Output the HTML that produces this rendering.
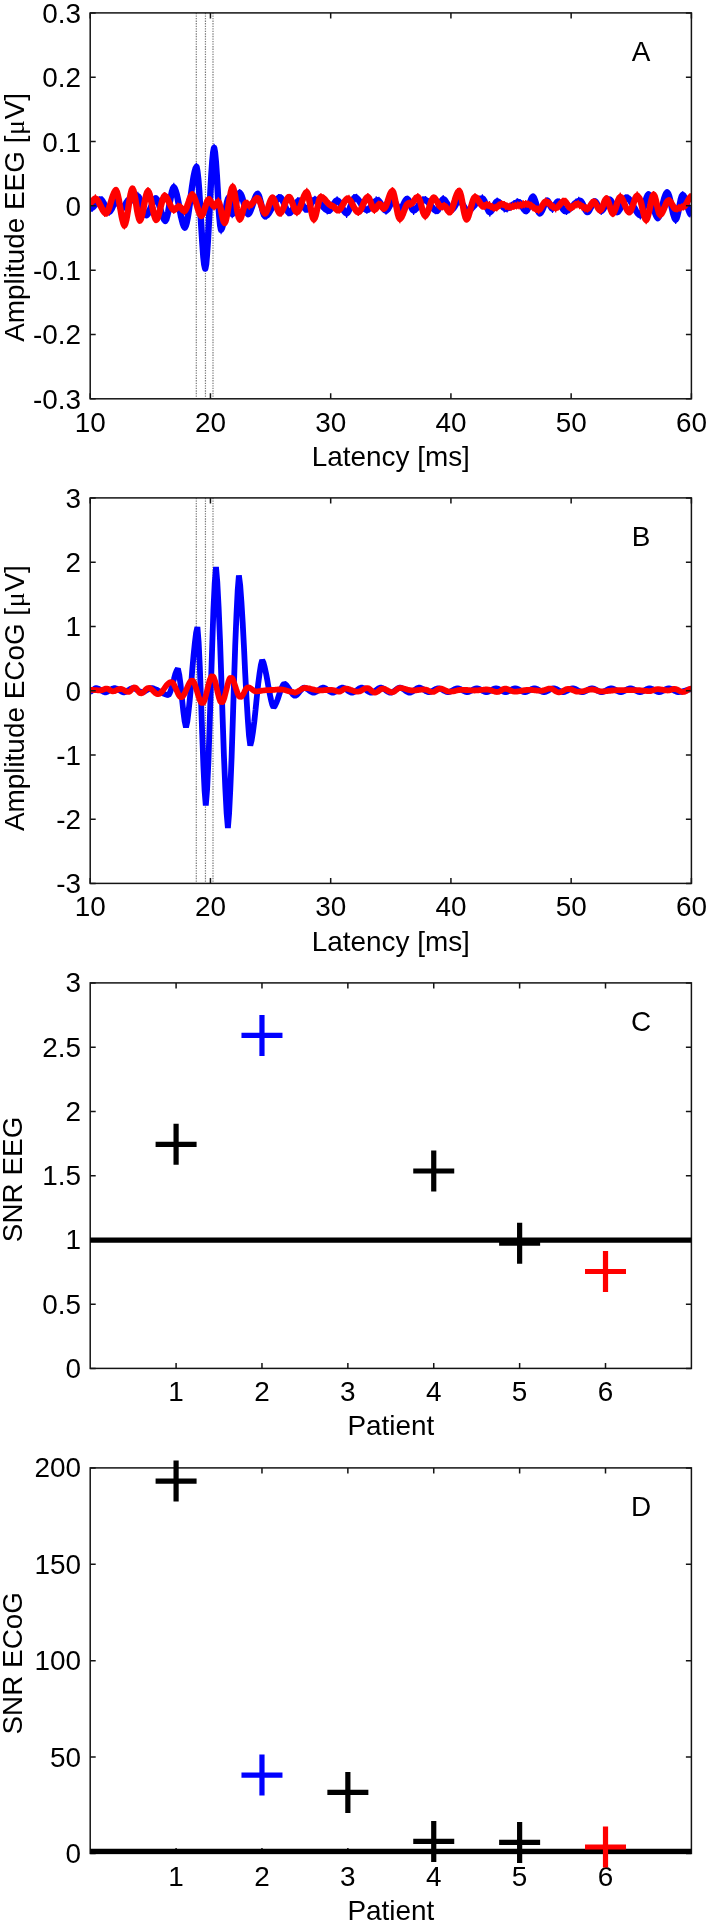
<!DOCTYPE html>
<html><head><meta charset="utf-8"><title>Figure</title>
<style>html,body{margin:0;padding:0;background:#fff}svg{display:block;will-change:transform}</style>
</head><body>
<svg width="708" height="1923" viewBox="0 0 708 1923" font-family="'Liberation Sans', sans-serif" font-size="27.9" fill="#000">
<rect width="708" height="1923" fill="#fff"/>
<line x1="196.3" y1="12.9" x2="196.3" y2="398.8" stroke="#7a7a7a" stroke-width="1.2" stroke-dasharray="1.35 1.2"/>
<line x1="205.45" y1="12.9" x2="205.45" y2="398.8" stroke="#7a7a7a" stroke-width="1.2" stroke-dasharray="1.35 1.2"/>
<line x1="213.0" y1="12.9" x2="213.0" y2="398.8" stroke="#7a7a7a" stroke-width="1.2" stroke-dasharray="1.35 1.2"/>
<clipPath id="cA"><rect x="90.2" y="12.9" width="601.2" height="385.9"/></clipPath><g clip-path="url(#cA)">
<path d="M90.2 209.6 L90.4 209.1 L90.5 208.5 L91.5 208.2 L92.4 207.6 L93.3 206.8 L94.2 205.8 L95.2 204.6 L96.1 203.4 L97.0 202.3 L97.9 201.3 L98.9 200.4 L99.8 199.8 L100.7 199.5 L101.7 200.1 L102.6 201.2 L103.5 202.8 L104.5 204.7 L105.4 206.7 L106.4 208.6 L107.3 210.2 L108.2 211.3 L109.2 211.9 L110.1 211.3 L111.0 210.0 L112.0 208.3 L112.9 206.3 L113.8 204.3 L114.7 202.5 L115.7 201.3 L116.6 200.6 L117.5 201.3 L118.4 202.7 L119.2 204.6 L120.1 206.4 L121.0 207.8 L121.9 208.5 L122.8 208.0 L123.8 207.0 L124.7 205.6 L125.6 204.0 L126.5 202.4 L127.5 201.0 L128.4 200.0 L129.3 199.5 L129.8 200.1 L130.4 200.6 L131.3 200.4 L132.2 199.9 L133.2 199.2 L134.1 198.4 L135.0 197.6 L135.9 196.9 L136.9 196.4 L137.8 196.2 L138.7 197.0 L139.7 198.8 L140.6 201.2 L141.6 204.2 L142.5 207.2 L143.4 210.2 L144.4 212.6 L145.3 214.4 L146.3 215.2 L147.1 214.7 L148.0 213.6 L148.9 212.0 L149.7 210.1 L150.6 207.9 L151.5 205.7 L152.3 203.6 L153.2 201.6 L154.1 200.1 L154.9 199.0 L155.8 198.4 L156.7 199.2 L157.5 200.6 L158.4 202.7 L159.3 205.3 L160.1 208.1 L161.0 211.1 L161.9 214.0 L162.7 216.5 L163.6 218.6 L164.5 220.1 L165.3 220.9 L166.3 219.3 L167.2 216.2 L168.2 211.9 L169.1 206.7 L170.0 201.3 L171.0 196.2 L171.9 191.8 L172.9 188.7 L173.8 187.2 L174.7 188.4 L175.6 190.7 L176.6 193.9 L177.5 198.0 L178.4 202.5 L179.3 207.4 L180.2 212.2 L181.1 216.8 L182.1 220.8 L183.0 224.1 L183.9 226.4 L184.8 227.6 L185.7 226.0 L186.6 223.0 L187.5 218.7 L188.4 213.4 L189.3 207.3 L190.2 200.7 L191.1 193.9 L192.0 187.3 L192.9 181.2 L193.8 175.8 L194.7 171.6 L195.6 168.6 L196.5 166.9 L197.3 171.0 L198.2 178.8 L199.1 189.8 L199.9 203.2 L200.8 217.8 L201.7 232.4 L202.6 245.8 L203.4 256.8 L204.3 264.6 L205.2 268.6 L206.1 263.9 L206.9 254.6 L207.8 241.5 L208.7 225.6 L209.6 208.3 L210.5 190.9 L211.4 175.0 L212.3 161.9 L213.2 152.7 L214.1 147.9 L214.9 152.4 L215.8 161.6 L216.7 174.3 L217.6 188.9 L218.4 203.5 L219.3 216.1 L220.2 225.3 L221.1 229.8 L221.9 228.3 L222.8 225.3 L223.7 221.2 L224.5 216.2 L225.4 210.9 L226.3 206.0 L227.1 201.8 L228.0 198.8 L228.9 197.3 L230.0 201.8 L231.1 209.6 L232.2 214.1 L233.2 212.9 L234.1 210.6 L235.0 207.3 L235.9 203.5 L236.9 199.7 L237.8 196.4 L238.7 194.0 L239.7 192.8 L240.6 193.8 L241.5 195.7 L242.5 198.5 L243.4 201.7 L244.4 205.2 L245.3 208.4 L246.2 211.2 L247.2 213.1 L248.1 214.1 L249.0 213.4 L249.9 212.1 L250.7 210.2 L251.6 207.9 L252.5 205.3 L253.3 202.7 L254.2 200.1 L255.1 197.8 L255.9 195.9 L256.8 194.6 L257.7 193.9 L258.6 195.2 L259.5 197.7 L260.4 201.1 L261.4 205.1 L262.3 209.1 L263.2 212.6 L264.1 215.1 L265.1 216.4 L265.9 216.0 L266.8 215.4 L267.7 214.5 L268.6 213.5 L269.4 212.2 L270.3 210.8 L271.2 209.2 L272.1 207.6 L272.9 206.0 L273.8 204.4 L274.7 202.9 L275.5 201.4 L276.4 200.2 L277.3 199.1 L278.2 198.2 L279.0 197.6 L279.9 197.3 L280.8 197.8 L281.6 198.8 L282.5 200.3 L283.4 202.1 L284.2 204.1 L285.1 206.2 L286.0 208.2 L286.8 210.0 L287.7 211.4 L288.6 212.5 L289.4 213.0 L290.3 212.6 L291.2 211.8 L292.0 210.6 L292.9 209.2 L293.8 207.6 L294.6 206.0 L295.5 204.4 L296.4 203.0 L297.2 201.9 L298.1 201.1 L299.0 200.6 L299.9 201.1 L300.8 202.1 L301.8 203.5 L302.7 205.1 L303.6 206.7 L304.5 208.1 L305.5 209.1 L306.4 209.6 L307.3 209.2 L308.3 208.2 L309.2 206.9 L310.2 205.4 L311.1 203.8 L312.0 202.2 L313.0 200.9 L313.9 200.0 L314.9 199.5 L315.7 199.8 L316.6 200.1 L317.4 200.7 L318.3 201.4 L319.2 202.2 L320.0 203.1 L320.9 204.1 L321.8 205.1 L322.6 206.2 L323.5 207.1 L324.3 208.1 L325.2 208.9 L326.1 209.6 L326.9 210.1 L327.8 210.5 L328.6 210.8 L329.6 210.3 L330.5 209.3 L331.5 207.9 L332.4 206.3 L333.3 204.6 L334.3 203.0 L335.2 201.7 L336.2 200.7 L337.1 200.2 L338.0 200.7 L338.8 201.5 L339.7 202.7 L340.6 204.3 L341.4 205.9 L342.3 207.7 L343.2 209.4 L344.0 210.9 L344.9 212.1 L345.8 213.0 L346.6 213.4 L347.6 212.7 L348.5 211.2 L349.5 209.1 L350.4 206.7 L351.4 204.1 L352.3 201.6 L353.2 199.5 L354.2 198.0 L355.1 197.3 L356.0 197.6 L356.9 198.3 L357.8 199.2 L358.7 200.3 L359.6 201.6 L360.5 203.0 L361.4 204.4 L362.3 205.8 L363.2 207.1 L364.1 208.2 L365.0 209.1 L365.9 209.7 L366.8 210.1 L367.7 209.8 L368.6 209.2 L369.5 208.4 L370.4 207.4 L371.3 206.3 L372.2 205.1 L373.0 204.0 L373.9 202.8 L374.8 201.8 L375.7 201.1 L376.6 200.5 L377.5 200.2 L378.5 200.7 L379.4 201.7 L380.4 203.0 L381.3 204.6 L382.2 206.3 L383.2 207.9 L384.1 209.3 L385.1 210.3 L386.0 210.8 L386.9 210.2 L387.9 209.1 L388.8 207.5 L389.7 205.7 L390.6 203.9 L391.6 202.3 L392.5 201.2 L393.4 200.6 L394.3 201.3 L395.2 202.5 L396.1 204.2 L397.1 206.1 L398.0 207.8 L398.9 209.0 L399.8 209.6 L400.7 209.0 L401.6 207.8 L402.6 206.2 L403.5 204.2 L404.4 202.3 L405.3 200.7 L406.3 199.4 L407.2 198.8 L408.1 199.6 L409.0 201.3 L409.9 203.5 L410.8 205.9 L411.7 208.1 L412.6 209.7 L413.6 210.5 L414.4 210.2 L415.3 209.6 L416.2 208.7 L417.1 207.6 L418.0 206.3 L418.8 205.0 L419.7 203.7 L420.6 202.5 L421.5 201.4 L422.4 200.5 L423.3 199.9 L424.1 199.5 L425.1 199.8 L426.0 200.3 L426.9 201.0 L427.8 201.9 L428.7 202.9 L429.6 204.1 L430.5 205.3 L431.4 206.4 L432.3 207.6 L433.2 208.6 L434.1 209.5 L435.0 210.2 L435.9 210.7 L436.9 211.0 L437.8 210.2 L438.7 208.5 L439.6 206.3 L440.5 203.8 L441.4 201.5 L442.3 199.9 L443.2 199.1 L444.2 199.6 L445.1 200.5 L446.0 201.9 L447.0 203.5 L447.9 205.2 L448.9 206.8 L449.8 208.2 L450.7 209.1 L451.7 209.6 L452.6 209.1 L453.5 208.1 L454.5 206.7 L455.4 205.1 L456.3 203.5 L457.2 202.1 L458.2 201.1 L459.1 200.6 L460.0 201.1 L461.0 202.0 L461.9 203.3 L462.9 204.9 L463.8 206.5 L464.8 208.1 L465.7 209.4 L466.6 210.3 L467.6 210.8 L468.4 210.5 L469.3 210.1 L470.2 209.6 L471.1 208.9 L471.9 208.1 L472.8 207.1 L473.7 206.1 L474.6 205.1 L475.4 204.0 L476.3 203.0 L477.2 202.0 L478.0 201.1 L478.9 200.3 L479.8 199.6 L480.7 199.0 L481.5 198.6 L482.4 198.4 L483.3 199.2 L484.3 200.7 L485.2 202.9 L486.1 205.4 L487.0 207.8 L488.0 210.0 L488.9 211.6 L489.8 212.3 L490.7 211.7 L491.7 210.5 L492.6 208.8 L493.5 206.8 L494.5 204.9 L495.4 203.2 L496.3 201.9 L497.2 201.3 L498.2 201.7 L499.1 202.3 L500.1 203.3 L501.0 204.4 L501.9 205.6 L502.9 206.8 L503.8 207.7 L504.8 208.4 L505.7 208.7 L506.6 208.6 L507.4 208.3 L508.3 207.9 L509.1 207.5 L510.0 206.9 L510.9 206.3 L511.7 205.7 L512.6 205.0 L513.4 204.4 L514.3 203.8 L515.2 203.2 L516.0 202.8 L516.9 202.4 L517.7 202.1 L518.6 202.0 L519.5 202.5 L520.4 203.5 L521.4 205.0 L522.3 206.6 L523.2 208.2 L524.2 209.7 L525.1 210.7 L526.0 211.2 L526.9 210.4 L527.8 208.8 L528.6 206.5 L529.5 203.9 L530.4 201.3 L531.3 199.0 L532.1 197.4 L533.0 196.6 L534.0 197.8 L534.9 200.1 L535.9 203.3 L536.9 206.8 L537.8 209.9 L538.8 212.3 L539.8 213.4 L540.7 212.7 L541.6 211.3 L542.6 209.3 L543.5 207.0 L544.4 204.8 L545.3 202.8 L546.3 201.4 L547.2 200.6 L548.1 201.3 L549.0 202.8 L549.8 204.7 L550.7 206.6 L551.6 208.0 L552.5 208.7 L553.4 208.1 L554.3 206.8 L555.1 205.1 L556.0 203.5 L556.9 202.2 L557.8 201.5 L558.7 202.1 L559.6 203.2 L560.6 204.7 L561.5 206.4 L562.4 208.1 L563.3 209.6 L564.3 210.7 L565.2 211.2 L566.1 211.0 L566.9 210.7 L567.8 210.2 L568.7 209.6 L569.6 208.9 L570.4 208.1 L571.3 207.3 L572.2 206.4 L573.1 205.5 L573.9 204.6 L574.8 203.7 L575.7 202.9 L576.5 202.2 L577.4 201.7 L578.3 201.2 L579.2 200.8 L580.0 200.6 L581.0 201.3 L581.9 202.6 L582.8 204.3 L583.7 206.4 L584.7 208.4 L585.6 210.2 L586.5 211.5 L587.4 212.1 L588.4 211.5 L589.3 210.3 L590.2 208.6 L591.2 206.7 L592.1 204.8 L593.0 203.1 L593.9 201.9 L594.9 201.3 L595.8 202.0 L596.7 203.3 L597.6 205.2 L598.5 207.1 L599.4 209.0 L600.3 210.3 L601.2 211.0 L602.2 210.4 L603.1 209.4 L604.0 207.9 L605.0 206.2 L605.9 204.3 L606.9 202.6 L607.8 201.1 L608.8 200.1 L609.7 199.5 L610.6 200.2 L611.5 201.7 L612.5 203.6 L613.4 205.9 L614.3 208.2 L615.3 210.2 L616.2 211.6 L617.1 212.3 L618.0 211.8 L618.8 210.8 L619.7 209.5 L620.6 207.8 L621.4 205.9 L622.3 203.9 L623.2 202.0 L624.0 200.4 L624.9 199.0 L625.8 198.0 L626.6 197.5 L627.5 197.9 L628.4 198.5 L629.2 199.4 L630.1 200.5 L630.9 201.8 L631.8 203.2 L632.7 204.8 L633.5 206.4 L634.4 208.0 L635.3 209.5 L636.1 211.0 L637.0 212.3 L637.8 213.4 L638.7 214.3 L639.6 214.9 L640.4 215.2 L641.3 214.3 L642.2 212.4 L643.1 209.7 L644.0 206.5 L644.9 203.1 L645.8 200.0 L646.7 197.3 L647.6 195.4 L648.5 194.4 L649.4 195.3 L650.4 197.1 L651.3 199.7 L652.2 202.8 L653.2 206.2 L654.1 209.6 L655.0 212.7 L656.0 215.2 L656.9 217.0 L657.8 218.0 L658.8 216.9 L659.7 215.0 L660.6 212.2 L661.5 208.8 L662.5 205.1 L663.4 201.4 L664.3 198.0 L665.3 195.3 L666.2 193.3 L667.1 192.3 L668.0 193.3 L668.9 195.4 L669.7 198.4 L670.6 202.0 L671.4 205.9 L672.3 209.9 L673.1 213.5 L674.0 216.4 L674.8 218.5 L675.7 219.6 L676.6 218.2 L677.4 215.5 L678.3 211.7 L679.2 207.3 L680.1 202.9 L680.9 199.0 L681.8 196.3 L682.7 194.9 L683.6 195.7 L684.4 197.2 L685.3 199.4 L686.2 202.1 L687.0 204.9 L687.9 207.8 L688.8 210.5 L689.7 212.7 L690.5 214.2 L691.4 215.0" stroke="#0000ff" stroke-width="6.4" fill="none" stroke-linejoin="round" stroke-miterlimit="3" stroke-linecap="butt"/>
<path d="M90.2 205.9 L90.4 213.1 L90.5 204.6 L92.0 212.0 L93.4 202.5 L94.9 208.6 L96.4 199.5 L97.8 205.7 L99.3 196.3 L100.7 203.3 L102.1 196.2 L103.5 206.8 L104.9 201.4 L106.4 212.6 L107.8 206.7 L109.2 215.6 L110.7 206.5 L112.2 212.2 L113.6 200.6 L115.1 206.1 L116.6 196.5 L117.9 205.6 L119.2 200.4 L120.6 211.3 L121.9 204.7 L123.4 211.1 L124.9 201.0 L126.3 206.7 L127.8 196.4 L129.3 203.8 L129.8 195.9 L130.4 205.0 L131.9 196.2 L133.3 203.3 L134.8 193.8 L136.3 201.0 L137.8 191.8 L139.2 201.5 L140.6 197.6 L142.0 209.5 L143.4 205.8 L144.9 217.5 L146.3 211.1 L147.6 217.9 L149.0 207.7 L150.3 212.5 L151.7 201.2 L153.1 206.0 L154.4 195.5 L155.8 202.7 L157.2 195.8 L158.5 207.4 L159.9 203.0 L161.2 216.4 L162.6 212.1 L164.0 223.0 L165.3 216.6 L166.7 222.3 L168.2 207.5 L169.6 208.1 L171.0 192.0 L172.4 193.8 L173.8 182.9 L175.2 193.5 L176.6 190.1 L177.9 203.8 L179.3 203.1 L180.7 219.0 L182.1 217.2 L183.4 229.6 L184.8 223.7 L186.3 227.9 L187.7 213.6 L189.2 212.3 L190.6 193.0 L192.1 190.1 L193.6 173.0 L195.0 173.9 L196.5 162.8 L197.9 179.6 L199.4 189.8 L200.8 222.2 L202.3 237.5 L203.7 264.2 L205.2 264.8 L206.6 261.8 L208.1 232.4 L209.6 211.9 L211.1 176.3 L212.6 162.3 L214.1 143.8 L215.5 161.1 L216.9 173.5 L218.3 204.9 L219.7 216.5 L221.1 234.2 L222.4 222.7 L223.7 225.0 L225.0 209.6 L226.3 210.0 L227.6 196.0 L228.9 201.3 L230.6 201.7 L232.2 218.2 L233.7 207.3 L235.2 210.5 L236.7 196.5 L238.2 199.4 L239.7 189.0 L241.1 198.5 L242.5 194.1 L243.9 207.5 L245.3 204.4 L246.7 215.8 L248.1 210.2 L249.5 216.8 L250.9 206.3 L252.2 210.2 L253.6 197.8 L254.9 201.7 L256.3 191.2 L257.7 197.9 L259.1 192.4 L260.6 205.8 L262.1 204.2 L263.6 217.9 L265.1 212.8 L266.4 219.3 L267.8 210.3 L269.1 217.1 L270.5 206.7 L271.8 212.0 L273.2 201.5 L274.5 207.0 L275.9 197.1 L277.2 203.0 L278.6 194.1 L279.9 201.3 L281.3 194.5 L282.6 204.4 L284.0 199.3 L285.4 210.4 L286.7 205.7 L288.1 216.1 L289.4 209.2 L290.8 215.9 L292.2 206.2 L293.5 211.9 L294.9 201.8 L296.3 207.1 L297.6 197.3 L299.0 204.3 L300.5 197.9 L301.9 207.7 L303.4 202.2 L304.9 212.5 L306.4 205.3 L307.8 212.5 L309.2 203.1 L310.6 208.7 L312.0 197.9 L313.5 204.4 L314.9 195.8 L316.2 203.6 L317.6 196.8 L319.0 205.8 L320.4 199.3 L321.8 209.4 L323.1 203.0 L324.5 212.0 L325.9 205.2 L327.3 214.4 L328.6 206.5 L330.0 213.7 L331.5 204.3 L332.9 209.3 L334.3 198.8 L335.7 204.9 L337.1 196.3 L338.5 205.0 L339.8 199.0 L341.2 209.4 L342.6 203.8 L343.9 214.4 L345.3 209.0 L346.6 217.8 L348.1 207.7 L349.5 213.5 L350.9 201.4 L352.3 206.0 L353.7 194.3 L355.1 201.0 L356.6 193.8 L358.0 203.7 L359.5 197.3 L360.9 207.7 L362.4 202.1 L363.9 211.8 L365.3 205.6 L366.8 213.7 L368.1 205.5 L369.5 212.2 L370.8 202.6 L372.2 208.7 L373.5 199.0 L374.8 206.0 L376.2 196.4 L377.5 204.5 L378.9 196.8 L380.4 207.1 L381.8 201.9 L383.2 212.1 L384.6 206.1 L386.0 214.6 L387.5 205.4 L389.0 211.2 L390.5 200.3 L391.9 206.2 L393.4 196.6 L395.0 206.0 L396.6 201.4 L398.2 212.4 L399.8 205.7 L401.3 212.6 L402.7 201.9 L404.2 206.4 L405.7 196.1 L407.2 203.1 L408.8 197.1 L410.4 208.9 L412.0 204.2 L413.6 214.8 L414.9 205.7 L416.2 212.3 L417.5 202.9 L418.8 209.3 L420.2 199.5 L421.5 205.2 L422.8 196.3 L424.1 203.5 L425.6 196.1 L427.0 205.1 L428.4 198.4 L429.8 207.9 L431.2 202.6 L432.6 211.6 L434.0 205.7 L435.4 214.1 L436.9 206.6 L438.4 213.3 L440.0 201.4 L441.6 205.1 L443.2 195.2 L444.6 203.8 L446.0 198.0 L447.4 208.5 L448.9 202.8 L450.3 212.6 L451.7 205.9 L453.2 212.4 L454.7 202.8 L456.1 207.9 L457.6 197.5 L459.1 204.5 L460.5 197.9 L461.9 207.1 L463.3 201.8 L464.8 212.1 L466.2 205.6 L467.6 214.6 L468.9 206.1 L470.3 213.6 L471.6 204.4 L473.0 210.8 L474.3 201.4 L475.7 207.9 L477.0 198.3 L478.4 204.9 L479.7 195.7 L481.1 202.6 L482.4 194.4 L483.9 204.2 L485.4 199.7 L486.9 211.3 L488.3 206.8 L489.8 216.6 L491.3 206.7 L492.8 212.3 L494.3 200.9 L495.8 206.8 L497.2 197.5 L498.6 205.9 L500.1 199.6 L501.5 209.3 L502.9 202.6 L504.3 212.4 L505.7 204.5 L507.1 212.5 L508.6 203.6 L510.0 211.0 L511.4 202.2 L512.9 208.9 L514.3 200.2 L515.7 206.6 L517.2 198.1 L518.6 205.6 L520.1 199.4 L521.6 208.9 L523.0 203.6 L524.5 213.9 L526.0 207.6 L527.4 213.8 L528.8 202.3 L530.2 206.1 L531.6 194.2 L533.0 200.9 L534.4 194.2 L535.7 206.7 L537.1 203.2 L538.4 215.1 L539.8 209.2 L541.3 216.0 L542.7 204.7 L544.2 208.9 L545.7 197.9 L547.2 205.0 L548.5 198.4 L549.8 208.5 L551.2 203.3 L552.5 213.0 L553.8 203.8 L555.1 208.9 L556.5 199.0 L557.8 205.6 L559.3 198.5 L560.8 208.9 L562.2 203.9 L563.7 214.0 L565.2 207.3 L566.6 214.8 L567.9 206.5 L569.2 213.2 L570.6 203.6 L571.9 210.5 L573.3 201.0 L574.6 207.6 L576.0 198.5 L577.3 205.9 L578.7 196.9 L580.0 204.7 L581.5 198.0 L583.0 208.8 L584.5 203.7 L586.0 214.5 L587.4 208.4 L588.9 215.0 L590.4 203.9 L591.9 209.2 L593.4 198.6 L594.9 205.5 L596.5 199.2 L598.0 209.9 L599.6 205.6 L601.2 215.0 L602.6 206.1 L604.0 211.7 L605.5 201.1 L606.9 206.9 L608.3 196.7 L609.7 203.7 L611.2 197.1 L612.7 208.4 L614.1 203.7 L615.6 214.6 L617.1 208.6 L618.5 214.9 L619.8 205.3 L621.2 210.3 L622.6 199.7 L623.9 204.5 L625.3 194.7 L626.6 201.7 L628.0 194.5 L629.4 204.0 L630.8 197.5 L632.2 207.9 L633.5 202.4 L634.9 213.2 L636.3 207.0 L637.7 217.2 L639.0 210.6 L640.4 219.4 L641.8 209.1 L643.1 213.6 L644.5 200.6 L645.8 204.3 L647.2 192.3 L648.5 198.2 L649.8 192.2 L651.2 203.5 L652.5 199.6 L653.8 213.0 L655.2 208.8 L656.5 220.1 L657.8 214.2 L659.2 220.0 L660.5 208.9 L661.8 211.9 L663.1 198.2 L664.5 201.9 L665.8 190.2 L667.1 196.6 L668.6 190.8 L670.0 203.5 L671.4 201.8 L672.8 216.0 L674.3 213.6 L675.7 223.9 L677.1 212.9 L678.5 214.7 L679.9 199.6 L681.3 201.9 L682.7 191.3 L684.1 200.5 L685.6 196.3 L687.0 208.9 L688.5 205.9 L689.9 217.3 L691.4 210.6" stroke="#0000ff" stroke-width="1.1" fill="none" stroke-linejoin="miter"/>
<path d="M90.2 202.8 L91.1 202.4 L91.9 201.7 L92.8 200.7 L93.7 199.7 L94.5 198.9 L95.4 198.5 L96.3 199.0 L97.2 199.8 L98.1 201.0 L98.9 202.5 L99.8 204.2 L100.7 206.0 L101.6 207.8 L102.5 209.5 L103.4 211.0 L104.2 212.2 L105.1 213.0 L106.0 213.5 L106.9 212.7 L107.8 211.2 L108.7 209.0 L109.6 206.4 L110.5 203.4 L111.4 200.3 L112.3 197.4 L113.3 194.7 L114.2 192.6 L115.1 191.0 L116.0 190.2 L116.9 191.9 L117.8 195.1 L118.8 199.6 L119.7 205.0 L120.7 210.6 L121.6 216.0 L122.6 220.5 L123.5 223.7 L124.4 225.4 L125.3 223.7 L126.2 220.3 L127.1 215.6 L128.0 209.9 L128.9 204.0 L129.8 198.4 L130.7 193.7 L131.6 190.3 L132.5 188.6 L133.4 190.4 L134.3 193.9 L135.3 198.9 L136.2 204.6 L137.1 210.3 L138.1 215.3 L139.0 218.8 L139.9 220.6 L140.8 219.2 L141.7 216.5 L142.6 212.7 L143.5 208.2 L144.4 203.4 L145.3 198.9 L146.2 195.0 L147.1 192.3 L148.0 191.0 L148.9 192.3 L149.8 194.9 L150.7 198.7 L151.6 203.1 L152.5 207.8 L153.5 212.2 L154.4 215.9 L155.3 218.6 L156.2 219.9 L157.2 218.8 L158.1 216.6 L159.0 213.4 L160.0 209.8 L160.9 205.9 L161.9 202.2 L162.8 199.0 L163.8 196.8 L164.7 195.7 L165.6 196.3 L166.5 197.4 L167.4 198.9 L168.3 200.8 L169.2 202.8 L170.2 204.9 L171.1 206.7 L172.0 208.3 L172.9 209.4 L173.8 209.9 L174.7 209.6 L175.6 209.0 L176.5 208.2 L177.3 207.3 L178.2 206.7 L179.1 206.4 L180.0 206.8 L180.9 207.6 L181.8 208.8 L182.6 209.9 L183.5 210.7 L184.4 211.1 L185.3 210.4 L186.1 208.8 L187.0 206.7 L187.9 204.2 L188.8 201.5 L189.6 198.9 L190.5 196.8 L191.4 195.3 L192.2 194.5 L193.1 195.4 L194.1 197.0 L195.0 199.3 L195.9 202.1 L196.8 205.2 L197.7 208.3 L198.6 211.1 L199.5 213.4 L200.4 215.0 L201.3 215.9 L202.3 214.9 L203.2 213.1 L204.1 210.5 L205.1 207.6 L206.0 204.6 L206.9 202.0 L207.8 200.2 L208.8 199.3 L209.6 199.9 L210.5 201.2 L211.4 202.8 L212.3 204.5 L213.2 205.8 L214.1 206.4 L215.1 205.6 L216.2 204.0 L217.2 202.4 L218.3 201.6 L219.2 203.1 L220.1 206.1 L221.0 210.1 L221.9 214.5 L222.8 218.6 L223.7 221.5 L224.7 223.0 L225.5 221.3 L226.4 218.0 L227.3 213.4 L228.2 207.9 L229.1 202.0 L230.0 196.5 L230.9 191.9 L231.8 188.6 L232.7 186.9 L233.5 188.7 L234.4 192.4 L235.3 197.4 L236.2 203.2 L237.0 209.0 L237.9 214.0 L238.8 217.6 L239.7 219.4 L240.6 218.3 L241.5 216.0 L242.4 212.8 L243.3 209.4 L244.2 206.3 L245.1 204.0 L246.0 202.8 L247.1 203.6 L248.1 204.9 L249.2 205.7 L250.1 205.3 L251.1 204.6 L252.0 203.6 L253.0 202.5 L253.9 201.3 L254.8 200.1 L255.8 199.1 L256.7 198.4 L257.7 198.1 L258.6 198.9 L259.5 200.7 L260.4 203.0 L261.4 205.8 L262.3 208.5 L263.2 210.9 L264.1 212.6 L265.1 213.5 L266.0 212.6 L266.9 210.8 L267.9 208.4 L268.8 205.5 L269.7 202.7 L270.6 200.3 L271.6 198.5 L272.5 197.6 L273.4 198.5 L274.3 200.3 L275.3 202.7 L276.2 205.5 L277.1 208.4 L278.1 210.8 L279.0 212.6 L279.9 213.5 L280.8 212.8 L281.7 211.6 L282.6 209.8 L283.6 207.6 L284.5 205.2 L285.4 202.8 L286.3 200.6 L287.2 198.8 L288.1 197.5 L289.0 196.9 L289.9 197.6 L290.8 199.0 L291.6 201.0 L292.5 203.4 L293.4 205.8 L294.2 208.2 L295.1 210.2 L296.0 211.6 L296.9 212.3 L297.8 211.6 L298.7 210.3 L299.6 208.4 L300.5 206.1 L301.4 203.6 L302.3 200.9 L303.2 198.3 L304.1 196.0 L305.0 194.2 L305.9 192.8 L306.8 192.1 L307.7 193.7 L308.6 196.7 L309.4 200.9 L310.3 205.8 L311.2 210.6 L312.1 214.9 L312.9 217.9 L313.8 219.4 L314.7 218.2 L315.6 215.7 L316.4 212.2 L317.3 208.2 L318.2 204.1 L319.0 200.7 L319.9 198.1 L320.8 196.9 L321.7 197.2 L322.6 197.6 L323.6 198.4 L324.5 199.2 L325.4 200.2 L326.3 201.3 L327.2 202.3 L328.1 203.3 L329.1 204.2 L330.0 204.9 L330.9 205.4 L331.8 205.7 L332.7 206.0 L333.6 206.7 L334.5 207.5 L335.4 208.5 L336.4 209.4 L337.3 210.1 L338.2 210.4 L339.0 210.0 L339.9 209.2 L340.8 208.1 L341.6 206.8 L342.5 205.3 L343.4 203.7 L344.2 202.2 L345.1 200.8 L346.0 199.7 L346.8 199.0 L347.7 198.5 L348.6 199.0 L349.5 199.7 L350.4 200.8 L351.2 202.2 L352.1 203.8 L353.0 205.4 L353.9 207.1 L354.8 208.6 L355.6 210.0 L356.5 211.1 L357.4 211.9 L358.3 212.3 L359.2 211.8 L360.0 210.8 L360.9 209.3 L361.8 207.6 L362.6 205.6 L363.5 203.6 L364.4 201.6 L365.2 199.9 L366.1 198.4 L367.0 197.4 L367.8 196.9 L368.8 197.8 L369.7 199.6 L370.6 202.1 L371.6 204.8 L372.5 207.2 L373.4 209.0 L374.4 209.9 L375.2 209.4 L376.1 208.4 L377.0 207.0 L377.9 205.6 L378.8 204.5 L379.7 204.0 L380.7 204.8 L381.8 206.4 L382.8 208.0 L383.9 208.8 L384.8 207.9 L385.8 206.3 L386.7 204.0 L387.7 201.3 L388.6 198.4 L389.5 195.7 L390.5 193.4 L391.4 191.8 L392.4 191.0 L393.3 192.5 L394.2 195.6 L395.1 200.0 L396.1 205.0 L397.0 209.9 L397.9 214.3 L398.9 217.4 L399.8 219.0 L400.7 218.2 L401.7 216.8 L402.6 214.8 L403.5 212.4 L404.5 209.9 L405.4 207.5 L406.4 205.5 L407.3 204.0 L408.3 203.3 L409.3 203.8 L410.4 204.2 L411.3 203.8 L412.2 203.0 L413.2 201.9 L414.1 200.6 L415.0 199.3 L415.9 198.1 L416.9 197.3 L417.8 196.9 L418.7 197.9 L419.6 200.1 L420.6 203.0 L421.5 206.4 L422.4 209.8 L423.3 212.7 L424.3 214.8 L425.2 215.9 L426.1 215.0 L427.1 213.3 L428.0 211.0 L429.0 208.2 L429.9 205.3 L430.9 202.5 L431.8 200.1 L432.7 198.4 L433.7 197.6 L434.6 198.1 L435.5 199.2 L436.5 200.7 L437.4 202.3 L438.3 204.0 L439.2 205.5 L440.2 206.6 L441.1 207.1 L442.2 206.7 L443.2 206.0 L444.3 205.7 L445.2 206.2 L446.0 207.4 L446.9 209.0 L447.8 210.5 L448.7 211.7 L449.6 212.3 L450.4 211.6 L451.3 210.2 L452.2 208.2 L453.0 205.8 L453.9 203.0 L454.8 200.2 L455.6 197.5 L456.5 195.1 L457.4 193.1 L458.2 191.7 L459.1 191.0 L460.0 192.5 L461.0 195.7 L461.9 200.1 L462.8 205.2 L463.7 210.3 L464.7 214.7 L465.6 217.8 L466.5 219.4 L467.5 218.4 L468.4 216.3 L469.3 213.4 L470.3 210.0 L471.2 206.3 L472.2 202.9 L473.1 200.0 L474.0 197.9 L475.0 196.9 L475.9 197.3 L476.9 198.2 L477.8 199.5 L478.8 201.0 L479.7 202.5 L480.6 204.0 L481.6 205.3 L482.5 206.2 L483.5 206.6 L484.5 206.1 L485.6 205.2 L486.6 204.7 L487.6 204.9 L488.5 205.2 L489.5 205.6 L490.4 206.1 L491.4 206.6 L492.3 207.2 L493.2 207.6 L494.2 207.9 L495.1 208.0 L496.0 207.8 L496.9 207.2 L497.8 206.4 L498.8 205.6 L499.7 204.8 L500.6 204.3 L501.5 204.0 L502.4 204.1 L503.4 204.4 L504.3 204.8 L505.2 205.3 L506.2 205.8 L507.1 206.3 L508.1 206.7 L509.0 206.9 L509.9 207.1 L510.9 207.0 L511.8 206.8 L512.7 206.5 L513.7 206.2 L514.6 206.0 L515.5 205.8 L516.5 205.7 L517.4 205.6 L518.2 205.5 L519.1 205.4 L520.0 205.2 L520.9 205.0 L521.8 204.8 L522.7 204.6 L523.5 204.4 L524.4 204.3 L525.3 204.1 L526.2 204.1 L527.1 204.0 L528.0 204.2 L528.9 204.5 L529.8 204.9 L530.7 205.4 L531.5 206.0 L532.4 206.6 L533.3 207.3 L534.2 207.9 L535.1 208.5 L536.0 209.1 L536.9 209.5 L537.8 209.8 L538.7 209.9 L539.6 209.5 L540.5 208.5 L541.3 207.3 L542.2 205.8 L543.1 204.3 L544.0 203.0 L544.8 202.1 L545.7 201.6 L546.6 201.9 L547.5 202.3 L548.4 202.9 L549.3 203.6 L550.2 204.4 L551.1 205.3 L552.0 206.1 L553.0 206.8 L553.9 207.4 L554.8 207.8 L555.7 208.0 L556.6 207.7 L557.6 207.1 L558.5 206.1 L559.4 205.1 L560.4 203.9 L561.3 202.8 L562.3 201.9 L563.2 201.2 L564.1 200.9 L565.1 201.4 L566.0 202.4 L566.9 203.7 L567.8 205.2 L568.7 206.6 L569.6 207.6 L570.5 208.0 L571.4 207.8 L572.3 207.2 L573.2 206.4 L574.1 205.6 L575.0 204.8 L575.9 204.3 L576.9 204.0 L577.7 204.1 L578.6 204.4 L579.5 204.8 L580.4 205.3 L581.3 205.8 L582.2 206.4 L583.0 206.9 L583.9 207.5 L584.8 208.0 L585.7 208.3 L586.6 208.6 L587.4 208.8 L588.4 208.3 L589.3 207.3 L590.2 205.9 L591.1 204.5 L592.0 203.1 L592.9 202.1 L593.8 201.6 L594.7 202.2 L595.6 203.5 L596.5 205.1 L597.4 206.9 L598.3 208.6 L599.3 209.8 L600.2 210.4 L601.1 209.6 L602.0 207.9 L602.9 205.7 L603.8 203.3 L604.7 201.0 L605.6 199.4 L606.5 198.5 L607.4 199.6 L608.3 201.7 L609.2 204.5 L610.1 207.6 L611.1 210.4 L612.0 212.5 L612.9 213.5 L613.8 212.6 L614.7 210.7 L615.7 208.1 L616.6 205.2 L617.5 202.2 L618.4 199.7 L619.4 197.8 L620.3 196.9 L621.2 197.5 L622.1 198.7 L623.0 200.4 L623.8 202.4 L624.7 204.6 L625.6 206.8 L626.5 208.8 L627.4 210.5 L628.3 211.7 L629.2 212.3 L630.1 211.5 L631.0 210.0 L631.9 207.9 L632.8 205.3 L633.7 202.7 L634.6 200.1 L635.4 198.0 L636.3 196.5 L637.2 195.7 L638.0 196.5 L638.7 197.3 L639.6 198.6 L640.6 201.1 L641.5 204.6 L642.4 208.6 L643.4 212.7 L644.3 216.2 L645.2 218.7 L646.2 220.0 L647.1 218.6 L648.0 215.7 L649.0 211.8 L649.9 207.3 L650.8 202.8 L651.8 198.9 L652.7 196.1 L653.6 194.7 L654.6 196.1 L655.5 198.9 L656.4 202.7 L657.4 206.8 L658.3 210.6 L659.2 213.4 L660.2 214.7 L661.0 214.2 L661.9 213.1 L662.7 211.5 L663.6 209.6 L664.4 207.5 L665.3 205.4 L666.1 203.5 L667.0 202.0 L667.8 200.9 L668.7 200.3 L669.6 200.8 L670.4 201.7 L671.3 203.1 L672.2 204.6 L673.1 206.2 L673.9 207.5 L674.8 208.5 L675.7 209.0 L676.6 208.9 L677.4 208.7 L678.3 208.4 L679.1 208.1 L680.0 207.8 L680.9 207.5 L681.7 207.2 L682.6 207.0 L683.5 206.9 L684.3 206.4 L685.2 205.5 L686.1 204.1 L687.0 202.5 L687.9 200.8 L688.8 199.2 L689.6 197.9 L690.5 196.9 L691.4 196.5" stroke="#ff0000" stroke-width="6.4" fill="none" stroke-linejoin="round" stroke-miterlimit="3" stroke-linecap="butt"/>
<path d="M90.2 198.9 L91.5 206.1 L92.8 197.0 L94.1 203.1 L95.4 194.4 L96.7 203.0 L98.1 196.7 L99.4 207.7 L100.7 202.4 L102.0 213.0 L103.4 207.1 L104.7 216.9 L106.0 209.3 L107.4 215.7 L108.9 204.5 L110.3 208.4 L111.7 195.2 L113.1 198.9 L114.5 187.6 L116.0 194.6 L117.4 189.2 L118.8 203.6 L120.2 204.1 L121.6 220.0 L123.0 218.4 L124.4 229.5 L125.8 218.0 L127.1 219.6 L128.5 203.2 L129.8 202.5 L131.1 187.7 L132.5 192.3 L134.0 188.0 L135.5 204.1 L136.9 205.5 L138.4 221.2 L139.9 216.9 L141.2 221.9 L142.6 208.5 L143.9 209.9 L145.3 194.8 L146.6 197.6 L148.0 187.0 L149.3 197.3 L150.7 195.0 L152.1 209.1 L153.5 208.0 L154.8 221.6 L156.2 215.9 L157.6 222.0 L159.0 209.6 L160.5 211.6 L161.9 198.3 L163.3 202.1 L164.7 192.1 L166.0 200.7 L167.3 194.9 L168.6 205.6 L169.9 200.4 L171.2 210.8 L172.5 205.1 L173.8 214.0 L175.1 205.1 L176.5 212.0 L177.8 202.7 L179.1 210.0 L180.4 203.4 L181.8 212.4 L183.1 206.7 L184.4 215.3 L185.7 205.5 L187.0 210.4 L188.3 199.1 L189.6 202.9 L190.9 191.8 L192.2 198.8 L193.5 191.8 L194.8 203.0 L196.1 199.3 L197.4 211.3 L198.7 207.7 L200.0 218.4 L201.3 211.8 L202.8 217.7 L204.3 206.2 L205.8 209.4 L207.3 197.6 L208.8 203.5 L210.1 196.1 L211.4 207.2 L212.7 201.3 L214.1 210.4 L215.5 201.1 L216.9 207.0 L218.3 197.2 L219.9 209.3 L221.5 208.5 L223.1 223.7 L224.7 219.0 L226.0 223.9 L227.3 209.2 L228.7 208.5 L230.0 192.3 L231.3 194.2 L232.7 182.9 L234.1 194.7 L235.5 194.5 L236.9 211.6 L238.3 211.6 L239.7 223.0 L241.2 212.7 L242.8 215.2 L244.4 201.7 L246.0 206.9 L247.6 199.9 L249.2 210.0 L250.6 201.3 L252.0 207.9 L253.4 197.8 L254.8 203.7 L256.2 194.9 L257.7 201.8 L259.1 196.2 L260.6 207.6 L262.1 203.6 L263.6 215.5 L265.1 209.2 L266.6 215.8 L268.0 204.1 L269.5 207.6 L271.0 195.4 L272.5 201.9 L274.0 195.3 L275.5 207.5 L276.9 204.0 L278.4 215.9 L279.9 209.1 L281.2 216.7 L282.5 206.1 L283.8 211.1 L285.1 199.5 L286.4 204.0 L287.7 194.4 L289.0 200.5 L290.3 194.5 L291.6 204.7 L292.9 200.6 L294.2 212.4 L295.5 206.9 L296.9 216.2 L298.3 206.8 L299.7 211.9 L301.1 200.3 L302.5 204.3 L304.0 192.4 L305.4 197.2 L306.8 187.8 L308.2 199.5 L309.6 198.0 L311.0 213.6 L312.4 212.2 L313.8 223.5 L315.2 213.0 L316.6 215.0 L318.0 201.2 L319.4 203.7 L320.8 193.2 L322.2 201.3 L323.6 194.6 L324.9 203.5 L326.3 197.6 L327.7 206.7 L329.1 200.5 L330.4 208.8 L331.8 202.0 L333.4 210.2 L335.0 204.1 L336.6 213.2 L338.2 206.8 L339.5 213.5 L340.9 204.0 L342.3 209.9 L343.6 199.6 L345.0 204.9 L346.3 195.5 L347.7 202.1 L349.0 194.9 L350.4 204.6 L351.7 199.3 L353.0 209.4 L354.3 204.2 L355.6 214.1 L357.0 207.7 L358.3 216.0 L359.7 207.6 L361.0 213.3 L362.4 202.4 L363.7 207.2 L365.1 196.1 L366.5 202.3 L367.8 193.1 L369.1 202.2 L370.4 197.7 L371.7 209.5 L373.1 204.3 L374.4 213.8 L375.7 205.3 L377.0 211.1 L378.3 200.6 L379.7 208.1 L381.1 201.7 L382.5 211.1 L383.9 205.1 L385.3 210.9 L386.7 200.4 L388.1 203.5 L389.5 191.6 L391.0 196.8 L392.4 187.2 L393.8 198.6 L395.3 197.0 L396.8 213.2 L398.3 211.4 L399.8 223.3 L401.2 214.0 L402.6 218.6 L404.0 207.0 L405.4 211.8 L406.8 201.0 L408.3 207.1 L409.3 199.5 L410.4 207.9 L411.9 199.5 L413.3 205.5 L414.8 195.4 L416.3 202.1 L417.8 193.2 L419.3 203.3 L420.8 199.5 L422.2 213.4 L423.7 209.6 L425.2 220.2 L426.6 210.4 L428.0 214.9 L429.4 203.0 L430.9 206.7 L432.3 195.2 L433.7 201.4 L435.2 195.0 L436.6 205.2 L438.1 199.6 L439.6 210.2 L441.1 203.2 L442.7 210.4 L444.3 202.0 L445.6 210.9 L446.9 205.4 L448.2 215.2 L449.6 208.1 L450.9 215.0 L452.3 204.2 L453.7 207.6 L455.0 195.1 L456.4 199.5 L457.7 188.1 L459.1 195.3 L460.6 190.3 L462.1 205.4 L463.6 205.1 L465.0 220.0 L466.5 215.5 L467.9 221.1 L469.3 209.5 L470.8 212.5 L472.2 199.2 L473.6 202.9 L475.0 193.2 L476.4 201.4 L477.8 195.4 L479.2 205.5 L480.6 200.4 L482.1 209.5 L483.5 202.5 L485.1 209.7 L486.6 201.1 L488.1 208.8 L489.5 201.2 L490.9 210.1 L492.3 203.1 L493.7 211.7 L495.1 203.8 L496.7 211.4 L498.3 201.8 L499.9 208.7 L501.5 200.3 L502.9 208.0 L504.3 201.2 L505.7 209.8 L507.1 202.6 L508.5 210.4 L509.9 202.7 L511.3 210.7 L512.6 202.3 L513.9 209.8 L515.2 201.9 L516.5 209.4 L517.8 201.3 L519.1 209.5 L520.4 201.0 L521.8 209.0 L523.1 200.2 L524.4 208.1 L525.7 200.0 L527.1 207.9 L528.5 200.7 L530.0 209.3 L531.4 201.8 L532.9 211.2 L534.4 204.3 L535.8 213.0 L537.3 205.6 L538.7 214.1 L540.1 205.3 L541.5 210.8 L542.9 200.6 L544.3 206.2 L545.7 197.6 L547.1 206.3 L548.6 199.0 L550.0 208.3 L551.4 201.4 L552.8 210.5 L554.2 203.7 L555.7 212.4 L557.1 203.6 L558.5 210.1 L559.9 200.8 L561.3 206.6 L562.7 197.8 L564.1 205.3 L565.7 197.9 L567.3 208.8 L568.9 202.4 L570.5 212.1 L572.1 203.0 L573.7 210.0 L575.3 200.8 L576.9 208.4 L578.2 199.9 L579.5 209.2 L580.8 201.6 L582.2 210.6 L583.5 203.3 L584.8 212.4 L586.1 204.1 L587.4 212.6 L589.0 203.2 L590.6 208.9 L592.2 199.2 L593.8 205.8 L595.4 199.3 L597.0 210.0 L598.6 204.8 L600.2 214.0 L601.8 204.2 L603.3 208.3 L604.9 196.6 L606.5 202.4 L608.1 196.9 L609.7 210.2 L611.3 207.2 L612.9 217.2 L614.4 207.7 L615.8 211.5 L617.3 199.2 L618.8 202.5 L620.3 192.7 L621.8 202.4 L623.3 196.6 L624.7 209.0 L626.2 203.9 L627.7 214.9 L629.2 208.6 L630.5 214.7 L631.9 203.9 L633.2 208.0 L634.6 196.1 L635.9 201.0 L637.2 191.4 L638.0 200.3 L638.7 193.4 L640.2 204.3 L641.7 201.1 L643.2 215.7 L644.7 213.5 L646.2 224.2 L647.7 213.4 L649.1 214.6 L650.6 199.7 L652.1 201.7 L653.6 191.0 L654.9 200.7 L656.2 198.1 L657.5 211.8 L658.8 208.4 L660.2 219.1 L661.6 209.2 L663.0 215.3 L664.4 203.9 L665.8 207.9 L667.3 198.0 L668.7 204.2 L670.1 197.4 L671.5 207.0 L672.9 201.9 L674.3 211.6 L675.7 205.2 L677.2 212.5 L678.8 204.0 L680.3 211.6 L681.9 203.4 L683.5 210.5 L684.8 202.1 L686.1 208.2 L687.4 197.5 L688.8 203.6 L690.1 193.1 L691.4 200.2" stroke="#ff0000" stroke-width="1.1" fill="none" stroke-linejoin="miter"/>
</g>
<rect x="90.2" y="12.9" width="601.2" height="385.9" fill="none" stroke="#141414" stroke-width="1.5"/>
<path d="M90.2 398.8v-5.5M90.2 12.9v5.5M210.44 398.8v-5.5M210.44 12.9v5.5M330.68 398.8v-5.5M330.68 12.9v5.5M450.92 398.8v-5.5M450.92 12.9v5.5M571.16 398.8v-5.5M571.16 12.9v5.5M691.4 398.8v-5.5M691.4 12.9v5.5" stroke="#141414" stroke-width="1.5" fill="none"/>
<text x="90.2" y="431.6" text-anchor="middle">10</text>
<text x="210.44" y="431.6" text-anchor="middle">20</text>
<text x="330.68" y="431.6" text-anchor="middle">30</text>
<text x="450.92" y="431.6" text-anchor="middle">40</text>
<text x="571.16" y="431.6" text-anchor="middle">50</text>
<text x="691.4" y="431.6" text-anchor="middle">60</text>
<path d="M90.2 12.9h5.5M691.4 12.9h-5.5M90.2 77.22h5.5M691.4 77.22h-5.5M90.2 141.53h5.5M691.4 141.53h-5.5M90.2 205.85h5.5M691.4 205.85h-5.5M90.2 270.17h5.5M691.4 270.17h-5.5M90.2 334.48h5.5M691.4 334.48h-5.5M90.2 398.8h5.5M691.4 398.8h-5.5" stroke="#141414" stroke-width="1.5" fill="none"/>
<text x="81.1" y="22.9" text-anchor="end">0.3</text>
<text x="81.1" y="87.22" text-anchor="end">0.2</text>
<text x="81.1" y="151.53" text-anchor="end">0.1</text>
<text x="81.1" y="215.85" text-anchor="end">0</text>
<text x="81.1" y="280.17" text-anchor="end">-0.1</text>
<text x="81.1" y="344.48" text-anchor="end">-0.2</text>
<text x="81.1" y="408.8" text-anchor="end">-0.3</text>
<text x="390.8" y="465.9" text-anchor="middle">Latency [ms]</text>
<text transform="translate(24.1 217.35) rotate(-90)" text-anchor="middle">Amplitude EEG [<tspan font-family="'Liberation Serif', serif" dx="0.7">μ</tspan><tspan dx="0.7">V]</tspan></text>
<text x="641" y="61.3" text-anchor="middle">A</text>
<line x1="196.3" y1="497.9" x2="196.3" y2="883.4" stroke="#7a7a7a" stroke-width="1.2" stroke-dasharray="1.35 1.2"/>
<line x1="205.45" y1="497.9" x2="205.45" y2="883.4" stroke="#7a7a7a" stroke-width="1.2" stroke-dasharray="1.35 1.2"/>
<line x1="213.0" y1="497.9" x2="213.0" y2="883.4" stroke="#7a7a7a" stroke-width="1.2" stroke-dasharray="1.35 1.2"/>
<clipPath id="cB"><rect x="90.2" y="497.9" width="601.2" height="385.5"/></clipPath><g clip-path="url(#cB)">
<path d="M90.2 691.7 L91.4 691.2 L92.6 690.4 L93.8 689.3 L95.0 688.5 L96.2 688.0 L97.5 688.4 L98.8 689.0 L100.1 689.8 L101.5 690.6 L102.8 691.4 L104.1 692.0 L105.4 692.4 L106.7 692.0 L108.0 691.4 L109.3 690.6 L110.7 689.8 L112.0 689.0 L113.3 688.4 L114.6 688.0 L115.9 688.4 L117.2 689.0 L118.5 689.8 L119.9 690.6 L121.2 691.4 L122.5 692.0 L123.8 692.4 L125.1 692.0 L126.4 691.4 L127.7 690.6 L129.1 689.8 L130.4 689.0 L131.7 688.4 L133.0 688.0 L134.3 688.4 L135.6 689.0 L136.9 689.8 L138.3 690.6 L139.6 691.4 L140.9 692.0 L142.2 692.4 L143.5 692.0 L144.8 691.4 L146.1 690.6 L147.5 689.8 L148.8 689.0 L150.1 688.4 L151.4 688.0 L152.6 688.2 L153.8 688.6 L155.1 689.1 L156.3 689.6 L157.5 690.2 L158.7 690.9 L159.9 691.6 L161.2 692.3 L162.4 693.0 L163.6 693.6 L164.8 694.1 L166.1 694.6 L167.3 695.0 L168.5 695.2 L169.8 693.0 L171.2 689.3 L172.5 684.4 L173.9 679.3 L175.2 674.4 L176.6 670.7 L177.9 668.5 L179.2 674.5 L180.6 685.0 L181.9 698.0 L183.3 711.0 L184.7 721.5 L186.0 727.5 L187.3 721.6 L188.5 712.0 L189.8 699.4 L191.1 684.9 L192.3 669.6 L193.6 655.1 L194.9 642.5 L196.1 632.9 L197.4 627.0 L198.6 641.7 L199.8 666.7 L201.0 698.9 L202.2 733.6 L203.4 765.8 L204.6 790.8 L205.8 805.5 L207.1 789.2 L208.4 761.9 L209.6 726.3 L210.9 686.2 L212.2 646.2 L213.4 610.6 L214.7 583.3 L216.0 567.0 L217.3 582.3 L218.6 607.1 L220.0 639.9 L221.3 677.7 L222.6 717.3 L223.9 755.1 L225.3 787.9 L226.6 812.7 L227.9 828.0 L229.1 813.2 L230.3 789.2 L231.6 757.5 L232.8 720.9 L234.0 682.6 L235.2 646.0 L236.5 614.3 L237.7 590.3 L238.9 575.5 L240.2 585.4 L241.4 601.6 L242.7 623.0 L244.0 647.6 L245.2 673.4 L246.5 698.0 L247.8 719.4 L249.0 735.6 L250.3 745.5 L251.6 740.5 L252.9 732.3 L254.3 721.6 L255.6 709.2 L256.9 696.3 L258.2 683.9 L259.6 673.2 L260.9 665.0 L262.2 660.0 L263.5 662.8 L264.7 667.3 L266.0 673.3 L267.3 680.1 L268.5 687.4 L269.8 694.2 L271.1 700.2 L272.3 704.7 L273.6 707.5 L274.9 705.9 L276.2 703.1 L277.6 699.5 L278.9 695.5 L280.2 691.5 L281.6 687.9 L282.9 685.1 L284.2 683.5 L285.4 684.2 L286.6 685.4 L287.8 687.0 L289.0 688.8 L290.2 690.7 L291.4 692.5 L292.6 694.1 L293.8 695.3 L295.0 696.0 L296.3 695.3 L297.6 694.1 L298.9 692.6 L300.1 691.0 L301.4 689.5 L302.7 688.3 L304.0 687.6 L305.2 688.0 L306.4 688.5 L307.6 689.3 L308.8 690.2 L310.0 691.1 L311.2 691.9 L312.4 692.4 L313.6 692.8 L314.8 692.4 L316.0 691.9 L317.2 691.1 L318.4 690.2 L319.6 689.3 L320.8 688.5 L322.0 688.0 L323.2 687.6 L324.4 688.0 L325.6 688.5 L326.8 689.3 L328.0 690.2 L329.2 691.1 L330.4 691.9 L331.6 692.4 L332.8 692.8 L334.0 692.4 L335.2 691.9 L336.4 691.1 L337.6 690.2 L338.8 689.3 L340.0 688.5 L341.2 688.0 L342.4 687.6 L343.6 688.0 L344.8 688.5 L346.0 689.3 L347.2 690.2 L348.4 691.1 L349.6 691.9 L350.8 692.4 L352.0 692.8 L353.2 692.4 L354.4 691.9 L355.6 691.1 L356.8 690.2 L358.0 689.3 L359.2 688.5 L360.4 688.0 L361.6 687.6 L362.8 688.0 L364.0 688.5 L365.2 689.3 L366.4 690.2 L367.6 691.1 L368.8 691.9 L370.0 692.4 L371.2 692.8 L372.4 692.4 L373.6 691.9 L374.8 691.1 L376.0 690.2 L377.2 689.3 L378.4 688.5 L379.6 688.0 L380.8 687.6 L382.0 688.0 L383.2 688.5 L384.4 689.3 L385.6 690.2 L386.8 691.1 L388.0 691.9 L389.2 692.4 L390.4 692.8 L391.6 692.4 L392.8 691.9 L394.0 691.1 L395.2 690.2 L396.4 689.3 L397.6 688.5 L398.8 688.0 L400.0 687.6 L401.2 688.0 L402.4 688.5 L403.6 689.3 L404.8 690.2 L406.0 691.1 L407.2 691.9 L408.4 692.4 L409.6 692.8 L410.8 692.4 L412.0 691.9 L413.2 691.1 L414.4 690.2 L415.6 689.3 L416.8 688.5 L418.0 688.0 L419.2 687.6 L420.4 687.9 L421.6 688.4 L422.8 689.1 L424.0 689.9 L425.2 690.7 L426.4 691.4 L427.6 691.9 L428.8 692.2 L430.0 691.9 L431.2 691.5 L432.4 690.9 L433.6 690.2 L434.8 689.5 L436.0 688.9 L437.2 688.5 L438.4 688.2 L439.6 688.5 L440.8 688.9 L442.0 689.5 L443.2 690.2 L444.4 690.9 L445.6 691.5 L446.8 691.9 L448.0 692.2 L449.2 691.9 L450.4 691.5 L451.6 690.9 L452.8 690.2 L454.0 689.5 L455.2 688.9 L456.4 688.5 L457.6 688.2 L458.8 688.5 L460.0 688.9 L461.2 689.5 L462.4 690.2 L463.6 690.9 L464.8 691.5 L466.0 691.9 L467.2 692.2 L468.4 691.9 L469.6 691.5 L470.8 690.9 L472.0 690.2 L473.2 689.5 L474.4 688.9 L475.6 688.5 L476.8 688.2 L478.0 688.5 L479.2 688.9 L480.4 689.5 L481.6 690.2 L482.8 690.9 L484.0 691.5 L485.2 691.9 L486.4 692.2 L487.6 691.9 L488.8 691.5 L490.0 690.9 L491.2 690.2 L492.4 689.5 L493.6 688.9 L494.8 688.5 L496.0 688.2 L497.2 688.5 L498.4 688.9 L499.6 689.5 L500.8 690.2 L502.0 690.9 L503.2 691.5 L504.4 691.9 L505.6 692.2 L506.8 691.9 L508.0 691.5 L509.2 690.9 L510.4 690.2 L511.6 689.5 L512.8 688.9 L514.0 688.5 L515.2 688.2 L516.4 688.5 L517.6 688.9 L518.8 689.5 L520.0 690.2 L521.2 690.9 L522.4 691.5 L523.6 691.9 L524.8 692.2 L526.0 691.9 L527.2 691.5 L528.4 690.9 L529.6 690.2 L530.8 689.5 L532.0 688.9 L533.2 688.5 L534.4 688.2 L535.6 688.5 L536.8 688.9 L538.0 689.5 L539.2 690.2 L540.4 690.9 L541.6 691.5 L542.8 691.9 L544.0 692.2 L545.2 691.9 L546.4 691.5 L547.6 690.9 L548.8 690.2 L550.0 689.5 L551.2 688.9 L552.4 688.5 L553.6 688.2 L554.8 688.5 L556.0 688.9 L557.2 689.5 L558.4 690.2 L559.6 690.9 L560.8 691.5 L562.0 691.9 L563.2 692.2 L564.4 691.9 L565.6 691.5 L566.8 690.9 L568.0 690.2 L569.2 689.5 L570.4 688.9 L571.6 688.5 L572.8 688.2 L574.0 688.5 L575.2 688.9 L576.4 689.5 L577.6 690.2 L578.8 690.9 L580.0 691.5 L581.2 691.9 L582.4 692.2 L583.6 691.9 L584.8 691.5 L586.0 690.9 L587.2 690.2 L588.4 689.5 L589.6 688.9 L590.8 688.5 L592.0 688.2 L593.2 688.5 L594.4 688.9 L595.6 689.5 L596.8 690.2 L598.0 690.9 L599.2 691.5 L600.4 691.9 L601.6 692.2 L602.8 691.9 L604.0 691.5 L605.2 690.9 L606.4 690.2 L607.6 689.5 L608.8 688.9 L610.0 688.5 L611.2 688.2 L612.4 688.5 L613.6 688.9 L614.8 689.5 L616.0 690.2 L617.2 690.9 L618.4 691.5 L619.6 691.9 L620.8 692.2 L622.0 691.9 L623.2 691.5 L624.4 690.9 L625.6 690.2 L626.8 689.5 L628.0 688.9 L629.2 688.5 L630.4 688.2 L631.6 688.5 L632.8 688.9 L634.0 689.5 L635.2 690.2 L636.4 690.9 L637.6 691.5 L638.8 691.9 L640.0 692.2 L641.2 691.9 L642.4 691.5 L643.6 690.9 L644.8 690.2 L646.0 689.5 L647.2 688.9 L648.4 688.5 L649.6 688.2 L650.8 688.5 L652.0 688.9 L653.2 689.5 L654.4 690.2 L655.6 690.9 L656.8 691.5 L658.0 691.9 L659.2 692.2 L660.4 691.9 L661.6 691.5 L662.8 690.9 L664.0 690.2 L665.2 689.5 L666.4 688.9 L667.6 688.5 L668.8 688.2 L670.0 688.5 L671.2 688.9 L672.4 689.5 L673.6 690.2 L674.8 690.9 L676.0 691.5 L677.2 691.9 L678.4 692.2 L679.7 692.0 L681.0 691.8 L682.3 691.5 L683.6 691.1 L684.9 690.7 L686.2 690.3 L687.5 689.9 L688.8 689.6 L690.1 689.4 L691.4 689.2" stroke="#0000ff" stroke-width="5.8" fill="none" stroke-linejoin="bevel" stroke-miterlimit="3" stroke-linecap="butt"/>
<path d="M90.2 689.8 L91.5 689.8 L92.8 689.9 L94.0 690.0 L95.3 690.1 L96.6 690.2 L97.9 690.3 L99.2 690.4 L100.4 690.4 L101.7 690.2 L102.9 689.8 L104.2 689.2 L105.4 688.7 L106.6 688.5 L107.9 688.8 L109.1 689.5 L110.4 690.4 L111.6 691.1 L112.9 691.3 L114.2 691.2 L115.4 690.7 L116.7 690.1 L118.0 689.5 L119.3 689.0 L120.6 688.8 L121.9 689.1 L123.2 689.6 L124.5 690.4 L125.8 691.2 L127.1 691.7 L128.4 692.0 L129.6 691.5 L130.9 690.3 L132.1 688.9 L133.4 687.7 L134.6 687.3 L135.9 687.9 L137.1 689.4 L138.3 691.4 L139.6 692.9 L140.8 693.5 L142.1 693.1 L143.4 692.1 L144.7 690.7 L146.0 689.3 L147.3 688.3 L148.6 687.9 L149.9 688.2 L151.3 689.1 L152.6 690.3 L153.9 691.7 L155.3 693.0 L156.6 693.8 L157.9 694.1 L159.1 693.9 L160.3 693.2 L161.6 692.0 L162.8 690.6 L164.0 688.9 L165.2 687.2 L166.4 685.5 L167.6 684.1 L168.9 683.0 L170.1 682.3 L171.3 682.0 L172.5 682.6 L173.8 684.2 L175.0 686.7 L176.3 689.6 L177.5 692.5 L178.7 695.0 L180.0 696.7 L181.2 697.2 L182.4 696.7 L183.6 695.3 L184.9 693.0 L186.1 690.3 L187.3 687.4 L188.5 684.6 L189.7 682.4 L190.9 681.0 L192.1 680.5 L193.4 681.3 L194.7 683.8 L195.9 687.6 L197.2 692.0 L198.5 696.4 L199.8 700.1 L201.1 702.6 L202.4 703.4 L203.6 702.4 L204.8 699.4 L206.1 694.9 L207.3 689.6 L208.6 684.3 L209.8 679.8 L211.1 676.8 L212.3 675.8 L213.6 677.1 L215.0 680.9 L216.3 686.3 L217.6 692.3 L219.0 697.7 L220.3 701.5 L221.6 702.8 L223.0 701.6 L224.3 698.0 L225.6 692.9 L227.0 687.3 L228.3 682.1 L229.6 678.6 L230.9 677.3 L232.3 678.3 L233.6 681.1 L234.9 685.1 L236.3 689.5 L237.6 693.5 L238.9 696.2 L240.3 697.2 L241.6 696.6 L242.9 694.7 L244.2 692.3 L245.4 689.8 L246.7 688.0 L248.0 687.3 L249.3 687.6 L250.6 688.3 L251.9 689.3 L253.2 690.3 L254.5 691.1 L255.8 691.3 L257.0 691.3 L258.3 691.2 L259.5 691.1 L260.8 690.9 L262.0 690.7 L263.3 690.5 L264.5 690.3 L265.8 690.2 L267.0 690.1 L268.2 690.1 L269.5 690.1 L270.7 690.0 L272.0 690.0 L273.2 689.9 L274.5 689.8 L275.7 689.7 L276.9 689.6 L278.2 689.5 L279.4 689.5 L280.7 689.5 L281.9 689.5 L283.2 689.7 L284.4 690.0 L285.6 690.3 L286.9 690.7 L288.1 691.1 L289.4 691.4 L290.6 691.7 L291.9 691.9 L293.1 692.0 L293.7 692.3 L294.2 692.6 L295.4 692.5 L296.6 692.1 L297.8 691.5 L299.0 690.7 L300.3 689.9 L301.5 689.1 L302.7 688.5 L303.9 688.1 L305.1 688.0 L306.4 688.0 L307.6 688.2 L308.9 688.4 L310.2 688.7 L311.4 689.0 L312.7 689.4 L314.0 689.7 L315.3 690.0 L316.5 690.3 L317.8 690.4 L319.1 690.5 L320.3 690.4 L321.6 690.4 L322.8 690.3 L324.0 690.2 L325.3 690.1 L326.5 690.0 L327.8 690.0 L329.0 689.9 L330.3 689.8 L331.5 689.8 L332.8 690.0 L334.1 690.3 L335.4 690.8 L336.7 691.2 L338.0 691.6 L339.3 691.7 L340.5 691.4 L341.8 690.6 L343.0 689.7 L344.2 688.9 L345.5 688.6 L346.7 688.7 L348.0 688.9 L349.2 689.2 L350.5 689.7 L351.7 690.1 L352.9 690.6 L354.2 691.1 L355.4 691.4 L356.7 691.6 L357.9 691.7 L359.3 691.5 L360.6 691.0 L361.9 690.2 L363.2 689.4 L364.6 688.7 L365.9 688.2 L367.2 688.0 L368.5 688.3 L369.8 689.1 L371.1 690.3 L372.4 691.5 L373.7 692.3 L375.0 692.6 L376.3 692.4 L377.6 691.6 L378.9 690.6 L380.2 689.6 L381.5 688.9 L382.8 688.6 L384.1 688.8 L385.4 689.3 L386.8 690.0 L388.1 690.9 L389.4 691.6 L390.8 692.1 L392.1 692.3 L393.4 692.0 L394.7 691.2 L396.0 690.1 L397.3 689.1 L398.6 688.3 L399.9 688.0 L401.1 688.0 L402.4 688.2 L403.6 688.5 L404.8 688.8 L406.1 689.2 L407.3 689.6 L408.6 689.9 L409.8 690.2 L411.1 690.4 L412.3 690.5 L413.5 690.4 L414.8 690.4 L416.0 690.3 L417.3 690.1 L418.5 690.0 L419.8 689.8 L421.0 689.7 L422.2 689.6 L423.5 689.5 L424.7 689.5 L426.0 689.7 L427.3 690.1 L428.6 690.8 L429.9 691.4 L431.2 691.8 L432.5 692.0 L433.8 691.8 L435.1 691.2 L436.4 690.3 L437.7 689.4 L439.0 688.8 L440.3 688.6 L441.6 688.7 L442.9 689.2 L444.3 689.8 L445.6 690.5 L446.9 691.1 L448.3 691.5 L449.6 691.7 L450.8 691.7 L452.1 691.5 L453.3 691.3 L454.6 691.1 L455.8 690.8 L457.0 690.5 L458.3 690.2 L459.5 690.0 L460.8 689.9 L462.0 689.8 L463.3 689.8 L464.5 689.9 L465.8 690.0 L467.0 690.0 L468.2 690.1 L469.5 690.2 L470.7 690.3 L472.0 690.4 L473.2 690.4 L474.5 690.5 L475.7 690.4 L476.9 690.4 L478.2 690.3 L479.4 690.1 L480.7 690.0 L481.9 689.8 L483.2 689.7 L484.4 689.6 L485.6 689.5 L486.9 689.5 L488.2 689.6 L489.5 689.9 L490.8 690.3 L492.1 690.8 L493.4 691.2 L494.7 691.6 L496.0 691.9 L497.3 692.0 L498.6 691.8 L499.9 691.2 L501.2 690.3 L502.5 689.4 L503.8 688.8 L505.1 688.6 L506.4 688.7 L507.8 689.2 L509.1 689.8 L510.4 690.5 L511.8 691.1 L513.1 691.5 L514.4 691.7 L515.7 691.7 L517.0 691.5 L518.2 691.4 L519.5 691.2 L520.8 690.9 L522.0 690.6 L523.3 690.4 L524.6 690.2 L525.9 690.0 L527.1 689.9 L528.4 689.8 L529.6 689.9 L530.9 689.9 L532.1 690.0 L533.4 690.2 L534.6 690.3 L535.9 690.4 L537.1 690.6 L538.3 690.7 L539.6 690.7 L540.8 690.8 L542.2 690.7 L543.5 690.4 L544.8 689.9 L546.2 689.4 L547.5 689.0 L548.8 688.7 L550.2 688.6 L551.4 688.8 L552.6 689.3 L553.9 690.0 L555.1 690.9 L556.4 691.6 L557.6 692.1 L558.9 692.3 L560.2 692.1 L561.5 691.7 L562.8 691.0 L564.2 690.2 L565.5 689.5 L566.8 689.1 L568.2 688.9 L569.4 689.0 L570.7 689.3 L571.9 689.8 L573.1 690.3 L574.4 690.8 L575.6 691.3 L576.9 691.6 L578.1 691.7 L579.4 691.7 L580.7 691.5 L581.9 691.3 L583.2 691.1 L584.5 690.8 L585.7 690.5 L587.0 690.2 L588.3 689.9 L589.6 689.7 L590.8 689.6 L592.1 689.5 L593.4 689.6 L594.8 689.9 L596.1 690.2 L597.4 690.7 L598.8 691.0 L600.1 691.3 L601.4 691.4 L602.6 691.4 L603.9 691.3 L605.1 691.3 L606.3 691.2 L607.5 691.0 L608.7 690.9 L610.0 690.8 L611.2 690.6 L612.4 690.5 L613.6 690.4 L614.9 690.3 L616.1 690.2 L617.3 690.2 L618.5 690.1 L619.8 690.1 L621.0 690.1 L622.2 690.1 L623.5 690.1 L624.7 690.1 L626.0 690.1 L627.2 690.1 L628.5 690.1 L629.7 690.1 L630.9 690.1 L632.2 690.1 L633.4 690.1 L634.7 690.1 L635.9 690.1 L637.2 690.1 L638.4 690.2 L639.6 690.2 L640.9 690.3 L642.1 690.5 L643.4 690.6 L644.6 690.8 L645.9 690.9 L647.1 691.0 L648.3 691.1 L649.6 691.1 L650.9 691.0 L652.2 690.6 L653.5 690.1 L654.8 689.7 L656.1 689.3 L657.4 689.2 L658.6 689.2 L659.8 689.4 L661.0 689.5 L662.2 689.7 L663.4 689.9 L664.6 690.1 L665.8 690.3 L667.0 690.4 L668.2 690.5 L669.5 690.3 L670.7 689.9 L672.0 689.4 L673.2 689.0 L674.5 688.9 L675.7 689.1 L676.9 689.5 L678.2 690.1 L679.4 690.8 L680.7 691.4 L681.9 691.9 L683.2 692.0 L684.5 691.8 L685.9 691.2 L687.3 690.3 L688.7 689.4 L690.0 688.8 L691.4 688.6" stroke="#ff0000" stroke-width="5.8" fill="none" stroke-linejoin="bevel" stroke-miterlimit="3" stroke-linecap="butt"/>
</g>
<rect x="90.2" y="497.9" width="601.2" height="385.5" fill="none" stroke="#141414" stroke-width="1.5"/>
<path d="M90.2 883.4v-5.5M90.2 497.9v5.5M210.44 883.4v-5.5M210.44 497.9v5.5M330.68 883.4v-5.5M330.68 497.9v5.5M450.92 883.4v-5.5M450.92 497.9v5.5M571.16 883.4v-5.5M571.16 497.9v5.5M691.4 883.4v-5.5M691.4 497.9v5.5" stroke="#141414" stroke-width="1.5" fill="none"/>
<text x="90.2" y="915.9" text-anchor="middle">10</text>
<text x="210.44" y="915.9" text-anchor="middle">20</text>
<text x="330.68" y="915.9" text-anchor="middle">30</text>
<text x="450.92" y="915.9" text-anchor="middle">40</text>
<text x="571.16" y="915.9" text-anchor="middle">50</text>
<text x="691.4" y="915.9" text-anchor="middle">60</text>
<path d="M90.2 497.9h5.5M691.4 497.9h-5.5M90.2 562.15h5.5M691.4 562.15h-5.5M90.2 626.4h5.5M691.4 626.4h-5.5M90.2 690.65h5.5M691.4 690.65h-5.5M90.2 754.9h5.5M691.4 754.9h-5.5M90.2 819.15h5.5M691.4 819.15h-5.5M90.2 883.4h5.5M691.4 883.4h-5.5" stroke="#141414" stroke-width="1.5" fill="none"/>
<text x="81.1" y="507.9" text-anchor="end">3</text>
<text x="81.1" y="572.15" text-anchor="end">2</text>
<text x="81.1" y="636.4" text-anchor="end">1</text>
<text x="81.1" y="700.65" text-anchor="end">0</text>
<text x="81.1" y="764.9" text-anchor="end">-1</text>
<text x="81.1" y="829.15" text-anchor="end">-2</text>
<text x="81.1" y="893.4" text-anchor="end">-3</text>
<text x="390.8" y="950.5" text-anchor="middle">Latency [ms]</text>
<text transform="translate(24.1 698.15) rotate(-90)" text-anchor="middle">Amplitude ECoG [<tspan font-family="'Liberation Serif', serif" dx="0.7">μ</tspan><tspan dx="0.7">V]</tspan></text>
<text x="641" y="545.7" text-anchor="middle">B</text>
<rect x="90.2" y="982.9" width="601.2" height="385.5" fill="none" stroke="#141414" stroke-width="1.5"/>
<path d="M176.09 1368.4v-5.5M176.09 982.9v5.5M261.97 1368.4v-5.5M261.97 982.9v5.5M347.86 1368.4v-5.5M347.86 982.9v5.5M433.74 1368.4v-5.5M433.74 982.9v5.5M519.63 1368.4v-5.5M519.63 982.9v5.5M605.51 1368.4v-5.5M605.51 982.9v5.5" stroke="#141414" stroke-width="1.5" fill="none"/>
<text x="176.09" y="1401" text-anchor="middle">1</text>
<text x="261.97" y="1401" text-anchor="middle">2</text>
<text x="347.86" y="1401" text-anchor="middle">3</text>
<text x="433.74" y="1401" text-anchor="middle">4</text>
<text x="519.63" y="1401" text-anchor="middle">5</text>
<text x="605.51" y="1401" text-anchor="middle">6</text>
<path d="M90.2 982.9h5.5M691.4 982.9h-5.5M90.2 1047.15h5.5M691.4 1047.15h-5.5M90.2 1111.4h5.5M691.4 1111.4h-5.5M90.2 1175.65h5.5M691.4 1175.65h-5.5M90.2 1239.9h5.5M691.4 1239.9h-5.5M90.2 1304.15h5.5M691.4 1304.15h-5.5M90.2 1368.4h5.5M691.4 1368.4h-5.5" stroke="#141414" stroke-width="1.5" fill="none"/>
<text x="81.1" y="992.4" text-anchor="end">3</text>
<text x="81.1" y="1056.65" text-anchor="end">2.5</text>
<text x="81.1" y="1120.9" text-anchor="end">2</text>
<text x="81.1" y="1185.15" text-anchor="end">1.5</text>
<text x="81.1" y="1249.4" text-anchor="end">1</text>
<text x="81.1" y="1313.65" text-anchor="end">0.5</text>
<text x="81.1" y="1377.9" text-anchor="end">0</text>
<line x1="90.2" y1="1240.1" x2="691.4" y2="1240.1" stroke="#000" stroke-width="5.2"/>
<path d="M155.59 1144.3h41M176.09 1123.8v41" stroke="#000000" stroke-width="5.2" fill="none"/>
<path d="M241.47 1035.4h41M261.97 1014.9v41" stroke="#0000ff" stroke-width="5.2" fill="none"/>
<path d="M413.24 1171h41M433.74 1150.5v41" stroke="#000000" stroke-width="5.2" fill="none"/>
<path d="M499.13 1243.2h41M519.63 1222.7v41" stroke="#000000" stroke-width="5.2" fill="none"/>
<path d="M585.01 1271.5h41M605.51 1251v41" stroke="#ff0000" stroke-width="5.2" fill="none"/>
<text x="390.8" y="1435.4" text-anchor="middle">Patient</text>
<text transform="translate(21.5 1179.45) rotate(-90)" text-anchor="middle">SNR EEG</text>
<text x="641" y="1031" text-anchor="middle">C</text>
<rect x="90.2" y="1467.9" width="601.2" height="385.5" fill="none" stroke="#141414" stroke-width="1.5"/>
<path d="M176.09 1853.4v-5.5M176.09 1467.9v5.5M261.97 1853.4v-5.5M261.97 1467.9v5.5M347.86 1853.4v-5.5M347.86 1467.9v5.5M433.74 1853.4v-5.5M433.74 1467.9v5.5M519.63 1853.4v-5.5M519.63 1467.9v5.5M605.51 1853.4v-5.5M605.51 1467.9v5.5" stroke="#141414" stroke-width="1.5" fill="none"/>
<text x="176.09" y="1886" text-anchor="middle">1</text>
<text x="261.97" y="1886" text-anchor="middle">2</text>
<text x="347.86" y="1886" text-anchor="middle">3</text>
<text x="433.74" y="1886" text-anchor="middle">4</text>
<text x="519.63" y="1886" text-anchor="middle">5</text>
<text x="605.51" y="1886" text-anchor="middle">6</text>
<path d="M90.2 1467.9h5.5M691.4 1467.9h-5.5M90.2 1564.28h5.5M691.4 1564.28h-5.5M90.2 1660.65h5.5M691.4 1660.65h-5.5M90.2 1757.03h5.5M691.4 1757.03h-5.5M90.2 1853.4h5.5M691.4 1853.4h-5.5" stroke="#141414" stroke-width="1.5" fill="none"/>
<text x="81.1" y="1477.4" text-anchor="end">200</text>
<text x="81.1" y="1573.78" text-anchor="end">150</text>
<text x="81.1" y="1670.15" text-anchor="end">100</text>
<text x="81.1" y="1766.53" text-anchor="end">50</text>
<text x="81.1" y="1862.9" text-anchor="end">0</text>
<line x1="90.2" y1="1851.4" x2="691.4" y2="1851.4" stroke="#000" stroke-width="5.2"/>
<path d="M155.59 1481.1h41M176.09 1460.6v41" stroke="#000000" stroke-width="5.2" fill="none"/>
<path d="M241.47 1775.1h41M261.97 1754.6v41" stroke="#0000ff" stroke-width="5.2" fill="none"/>
<path d="M327.36 1792.4h41M347.86 1771.9v41" stroke="#000000" stroke-width="5.2" fill="none"/>
<path d="M413.24 1841.4h41M433.74 1820.9v41" stroke="#000000" stroke-width="5.2" fill="none"/>
<path d="M499.13 1842.4h41M519.63 1821.9v41" stroke="#000000" stroke-width="5.2" fill="none"/>
<path d="M585.01 1847h41M605.51 1826.5v41" stroke="#ff0000" stroke-width="5.2" fill="none"/>
<text x="390.8" y="1920.4" text-anchor="middle">Patient</text>
<text transform="translate(21.5 1663.25) rotate(-90)" text-anchor="middle">SNR ECoG</text>
<text x="641" y="1516" text-anchor="middle">D</text>
</svg>
</body></html>
